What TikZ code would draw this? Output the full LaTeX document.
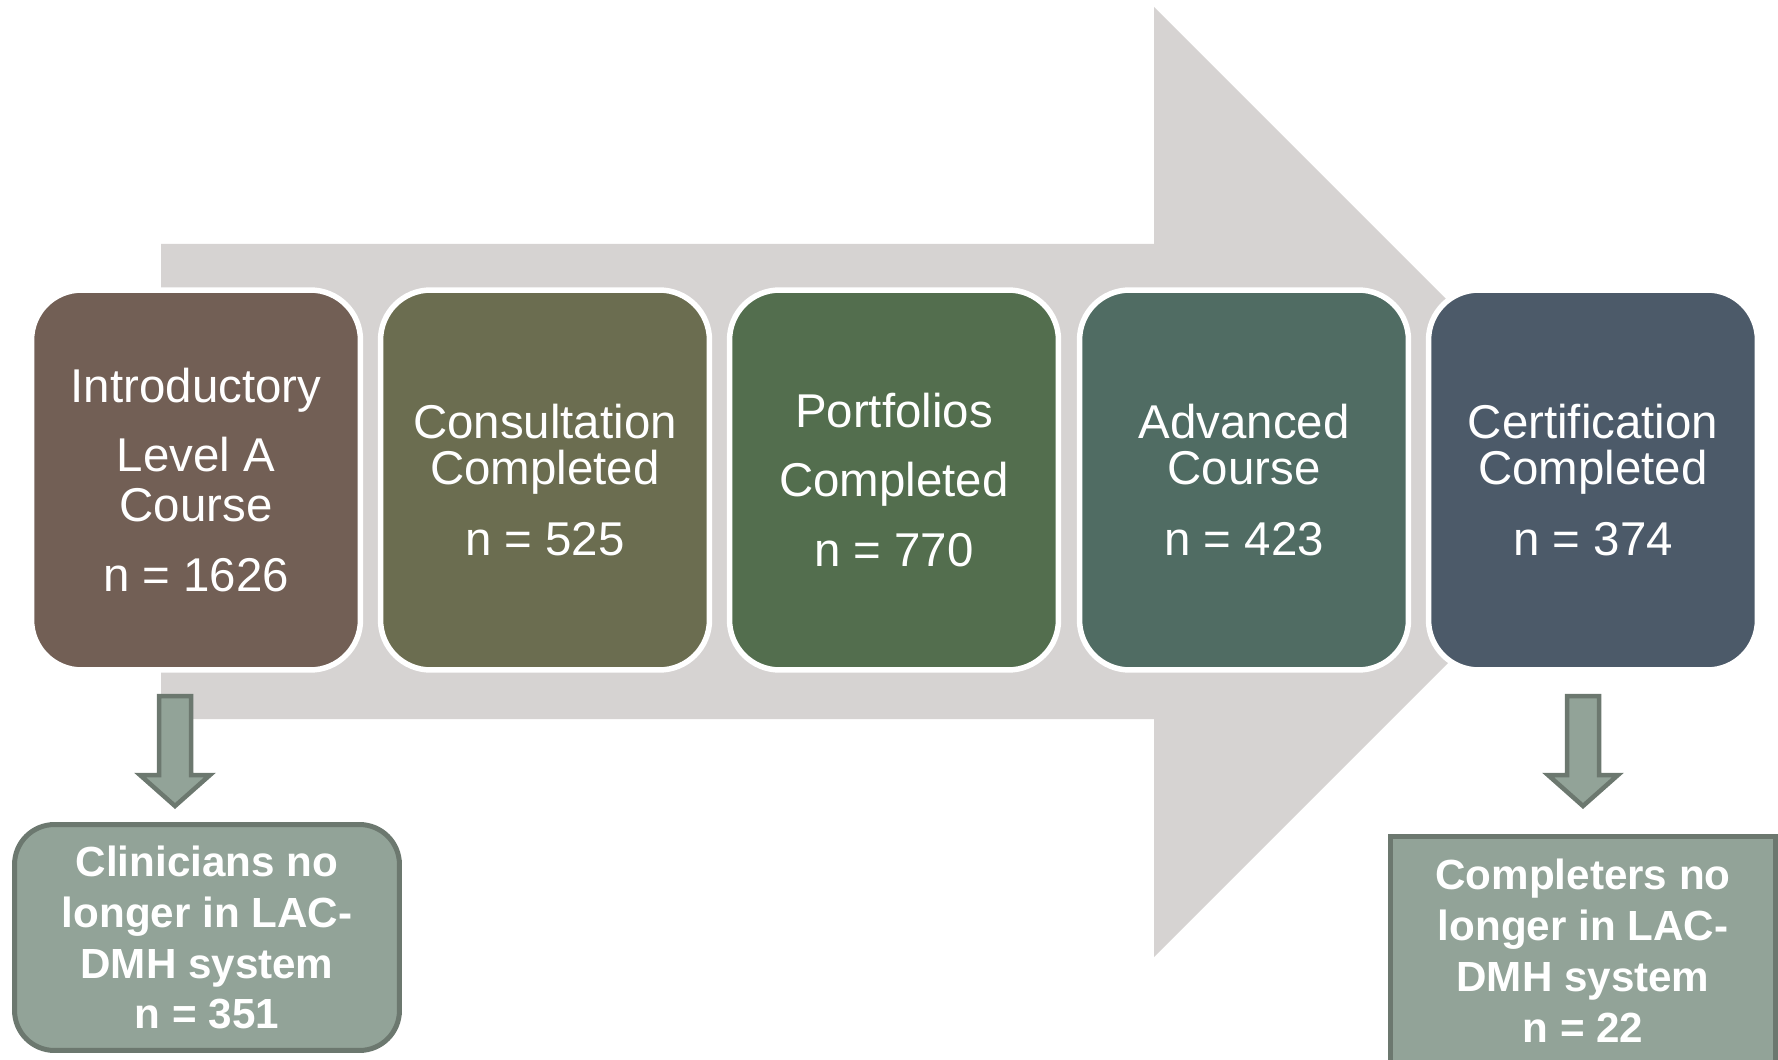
\documentclass[tikz,border=0pt]{standalone}
\usepackage{fontspec}
\setmainfont{Liberation Sans}
\usepackage{tikz}

\definecolor{arrowgray}{HTML}{D6D3D2}
\definecolor{introcol}{HTML}{725F55}
\definecolor{consultcol}{HTML}{6B6D50}
\definecolor{portfoliocol}{HTML}{536E4E}
\definecolor{advancedcol}{HTML}{506C63}
\definecolor{certcol}{HTML}{4C5A69}
\definecolor{dropfill}{HTML}{92A398}
\definecolor{dropedge}{HTML}{6C786F}

\begin{document}
\begin{tikzpicture}[x=0.02cm, y=-0.02cm,  % one unit = one pixel, y pointing down
    stagebox/.style={draw=white, line width=0.11cm, rounded corners=1cm, inner sep=0pt,
        minimum width=6.58cm, minimum height=7.6cm, text=white, align=center,
        font=\fontsize{27}{28.5}\selectfont},
    dropbox/.style={draw=dropedge, fill=dropfill, line width=0.1cm, inner sep=0pt,
        minimum width=7.7cm, text=white, align=center,
        font=\fontsize{24}{29}\selectfont\bfseries},
    droparrow/.style={draw=dropedge, fill=dropfill, line width=0.09cm, line join=miter}]
    \useasboundingbox (0,0) rectangle (1778,1060);
    \clip (0,0) rectangle (1778,1060);

    % Big gray arrow in the background
    \fill[arrowgray] (161,244) -- (1154,244) -- (1154,7) -- (1629,482)
        -- (1154,957) -- (1154,719) -- (161,719) -- cycle;

    % The five stages
    \node[stagebox, fill=introcol] (intro) at (196,480)
        {Introductory\\[11pt]Level A\\Course\\[11pt]n = 1626};
    \node[stagebox, fill=consultcol] (consult) at (545,480)
        {Consultation\\[-2pt]Completed\\[12pt]n = 525};
    \node[stagebox, fill=portfoliocol] (portfolio) at (894,480)
        {Portfolios\\[11pt]Completed\\[11pt]n = 770};
    \node[stagebox, fill=advancedcol] (advanced) at (1244,480)
        {Advanced\\[-2pt]Course\\[12pt]n = 423};
    \node[stagebox, fill=certcol] (cert) at (1593,480)
        {Certification\\[-2pt]Completed\\[12pt]n = 374};

    % Small down arrows
    \foreach \cx in {175, 1583} {
        \draw[droparrow] (\cx-16,696) -- (\cx+16,696) -- (\cx+16,775) -- (\cx+35,775)
            -- (\cx,806) -- (\cx-35,775) -- (\cx-16,775) -- cycle;
    }

    % Drop-out boxes
    \node[dropbox, rounded corners=0.8cm, minimum height=4.52cm] (clinleft) at (207,937.5)
        {Clinicians no\\longer in LAC-\\DMH system\\n = 351};
    \node[dropbox, minimum height=4.6cm] (compleft) at (1583,951)
        {Completers no\\longer in LAC-\\DMH system\\n = 22};

\end{tikzpicture}
\end{document}
